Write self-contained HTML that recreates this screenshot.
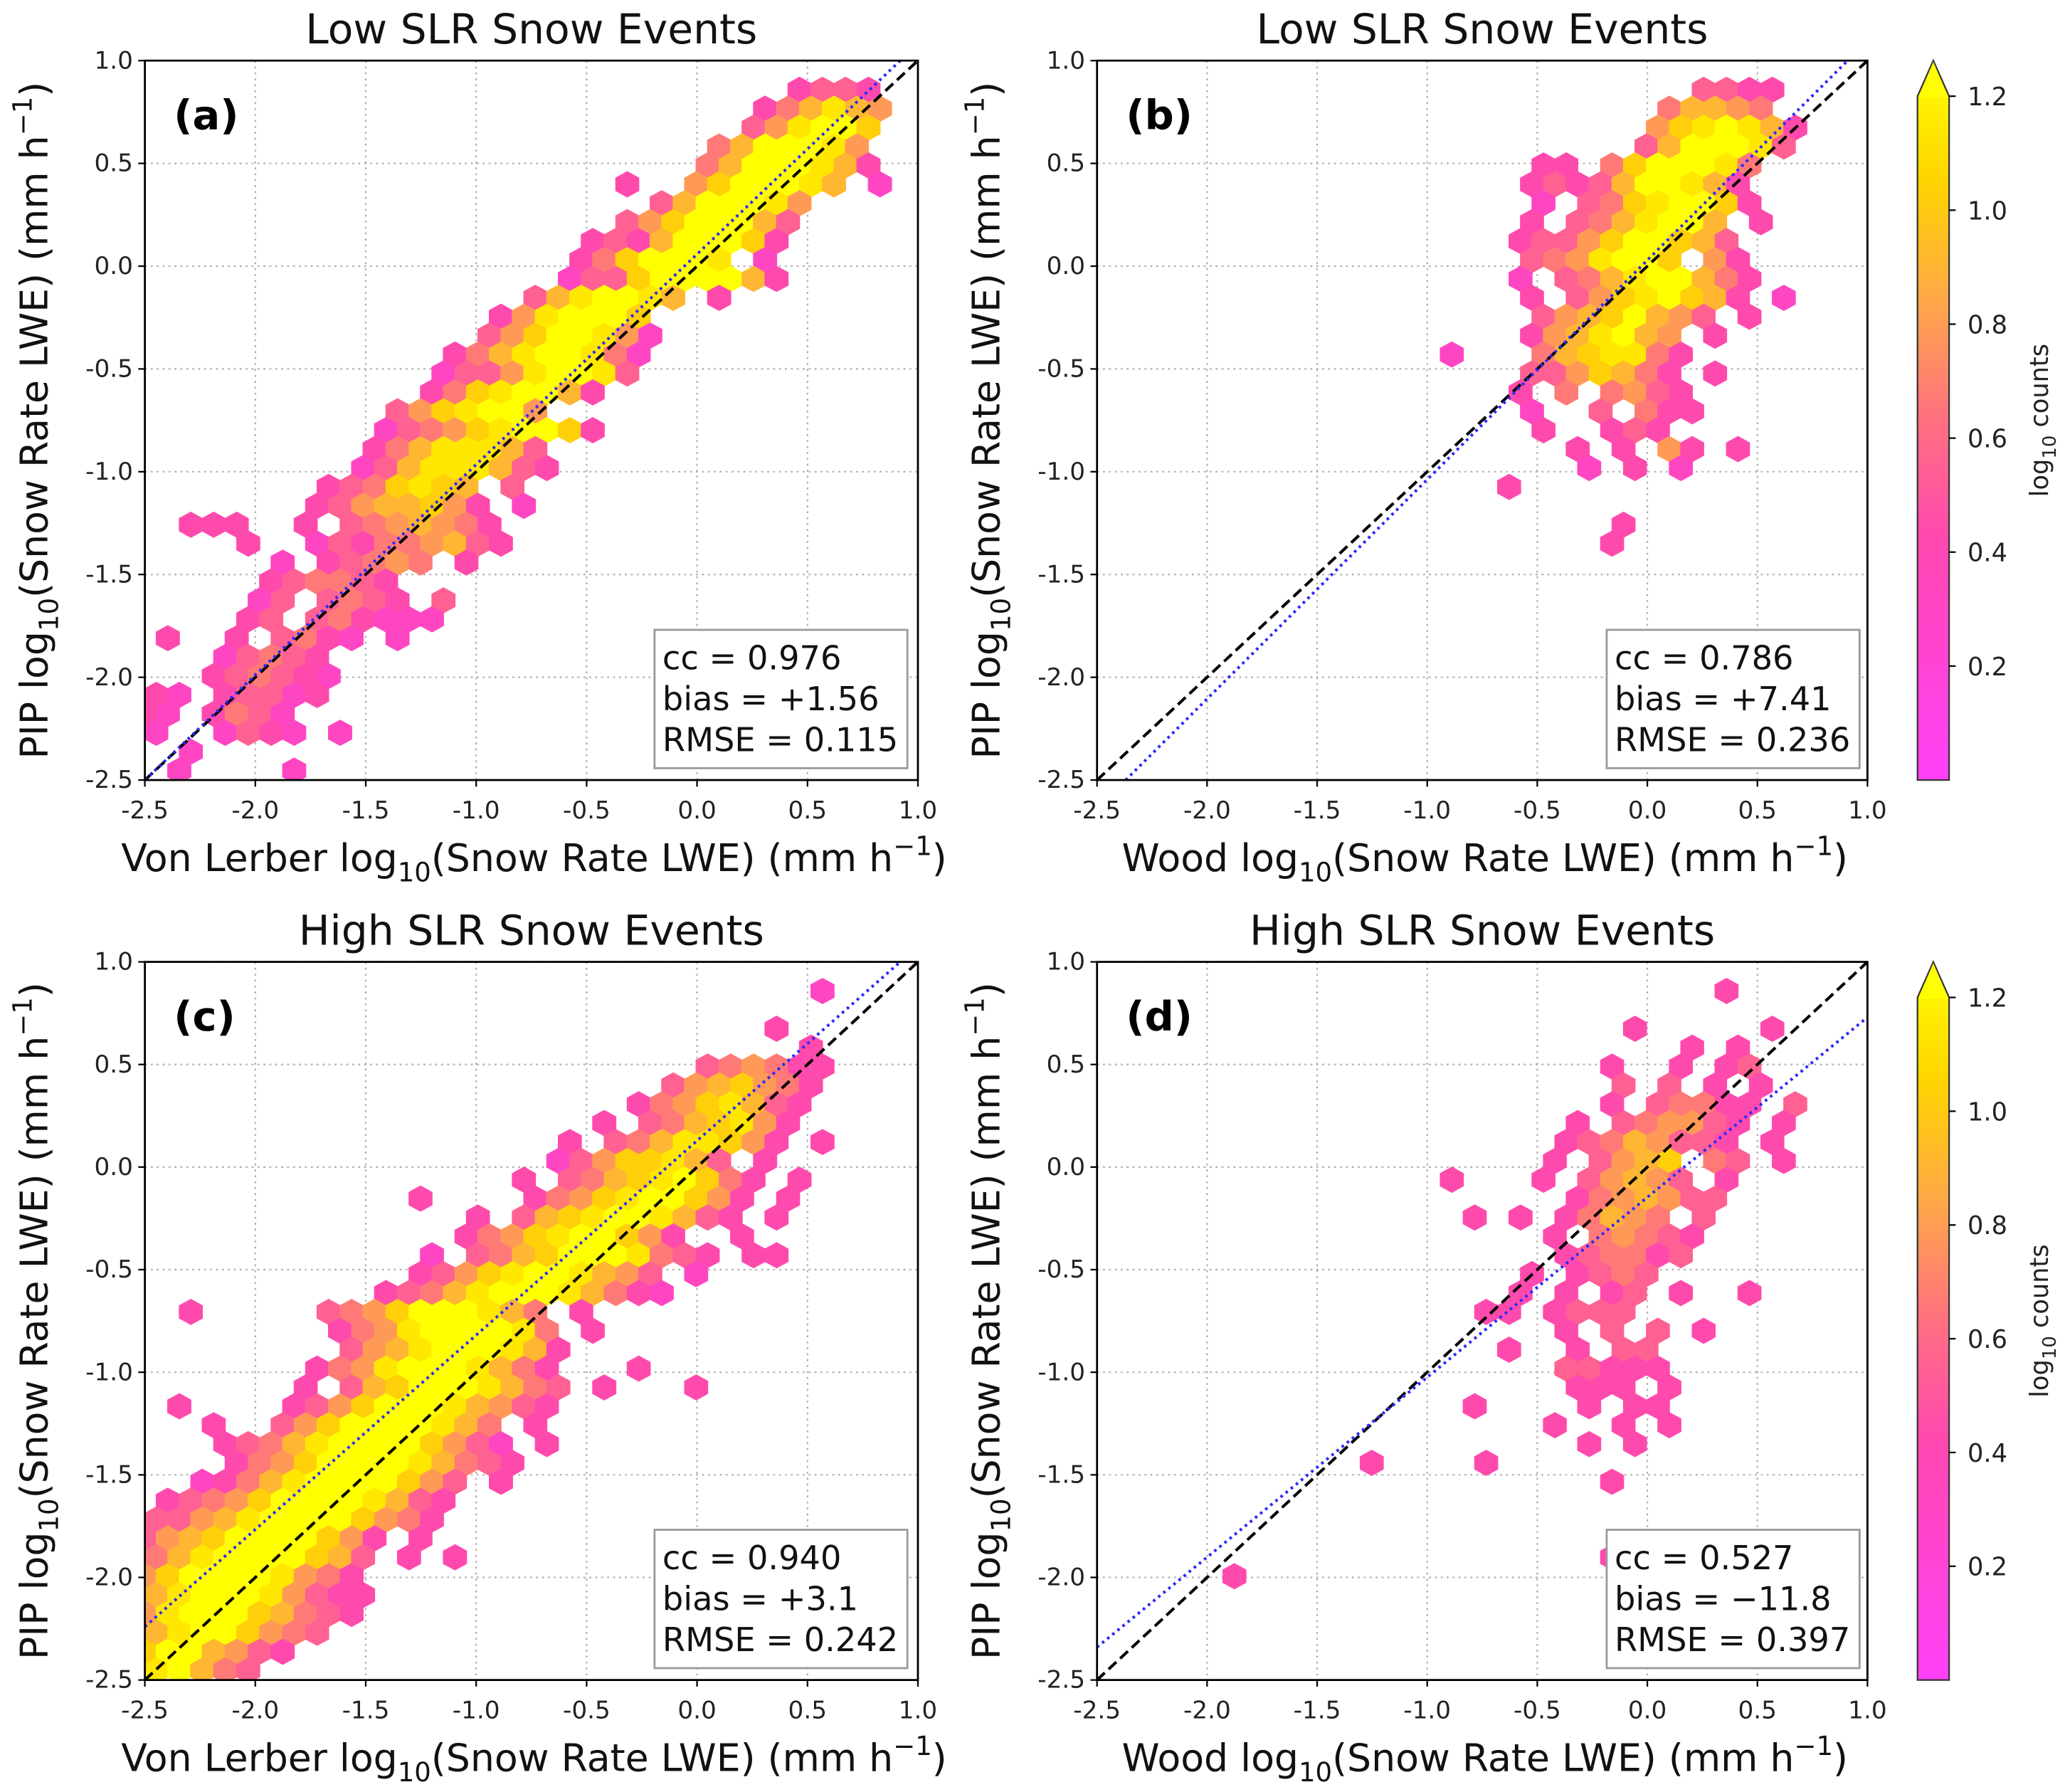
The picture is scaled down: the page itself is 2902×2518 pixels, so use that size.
<!DOCTYPE html>
<html><head><meta charset="utf-8"><style>
html,body{margin:0;padding:0;background:#fff;}
svg{display:block;font-family:"DejaVu Sans","Liberation Sans",sans-serif;}
</style></head><body>
<svg id="fig" width="2902" height="2518" viewBox="0 0 1568 1360" preserveAspectRatio="none" xmlns="http://www.w3.org/2000/svg">
<defs>
<linearGradient id="cbg" x1="0" y1="1" x2="0" y2="0">
<stop offset="0" stop-color="#ff40f8"/><stop offset="0.333" stop-color="#ff48b0"/><stop offset="0.5" stop-color="#ff7080"/><stop offset="0.667" stop-color="#ffa848"/><stop offset="0.833" stop-color="#ffd400"/><stop offset="1" stop-color="#ffff00"/>
</linearGradient>
</defs>
<g id="root"></g>
</svg>
<script>
// ---------- data ----------
const xTicks = [-2.5,-2.0,-1.5,-1.0,-0.5,0.0,0.5,1.0];
const yTicks = [-2.5,-2.0,-1.5,-1.0,-0.5,0.0,0.5,1.0];
const cbTicks = [0.2,0.4,0.6,0.8,1.0,1.2];
const titles = ["Low SLR Snow Events","Low SLR Snow Events","High SLR Snow Events","High SLR Snow Events"];
const letters = ["(a)","(b)","(c)","(d)"];
const xNames = ["Von Lerber","Wood","Von Lerber","Wood"];
const ccVals = ["0.976","0.786","0.940","0.527"];
const biasVals = ["+1.56","+7.41","+3.1","\u221211.8"];
const rmseVals = ["0.115","0.236","0.242","0.397"];
// blue fit lines: [x1,y1,x2,y2] in data units
const fitA = [-2.5,-2.5,0.92,1.0];
const fitB = [-2.37,-2.5,0.91,1.0];
const fitC = [-2.5,-2.24,0.92,1.0];
const fitD = [-2.5,-2.34,1.0,0.73];
// hexbin rows: [row y, start x, value string (1..9 levels, space = empty)]
const hexA = [
[0.858,0.42,"2332"],[0.766,0.3,"246865"],[0.674,0.25,"358997"],[0.582,0.15,"4699985"],
[0.49,0.05,"46999862"],[0.398,-0.3,"2  5799986 1"],[0.306,-0.15,"3699985"],[0.214,-0.3,"35799963"],
[0.122,-0.45,"232699972"],[0.03,-0.55,"2479998 1"],[-0.062,-0.6,"1337999962"],[-0.154,-0.75,"3689986 2"],
[-0.246,-0.85,"2589997"],[-0.338,-0.95,"35799851"],[-0.43,-1.1,"246899841"],[-0.522,-1.1,"133589983"],
[-0.614,-1.2,"24789962"],[-0.706,-1.35,"3578995"],[-0.798,-1.45,"1345789972"],[-0.89,-1.5,"24688863"],
[-0.982,-1.55,"136888632"],[-1.074,-1.65,"2347876 3"],[-1.166,-1.7,"23566752 1"],[-1.258,-2.25,"222  2 3456542"],
[-1.35,-2.05,"2  132445632"],[-1.442,-1.9,"1 23454 2"],[-1.534,-1.95,"234432"],[-1.626,-2.0,"13 3432 3"],
[-1.718,-2.05,"23 342111"],[-1.81,-2.35,"2  2 3421 1"],[-1.902,-2.1,"13432"],[-1.994,-2.2,"234321"],
[-2.086,-2.5,"21 23312"],[-2.178,-2.5,"21 2431"],[-2.27,-2.5,"1  1321 1"],[-2.362,-2.4," 1   "],[-2.454,-2.3,"1    1"]
];
const hexB = [
[0.858,0.25,"3322"],[0.766,0.15,"46654"],[0.674,0.05,"5789862"],[0.582,-0.05,"3699983"],
[0.49,-0.5,"22 4799984"],[0.398,-0.5,"2323699862"],[0.306,-0.5,"1 34789972"],[0.214,-0.5,"2 3468996 2"],
[0.122,-0.55,"2335799763"],[0.03,-0.5,"3458997 52"],[-0.062,-0.6,"1 346899642"],[-0.154,-0.55,"2 35789762 1"],
[-0.246,-0.5,"35679653 2"],[-0.338,-0.5,"2568965 2"],[-0.43,-0.9,"1   4678842"],[-0.522,-0.5,"3357642 2"],
[-0.614,-0.55,"2 4 4532"],[-0.706,-0.55,"1  3 422"],[-0.798,-0.5,"2  232"],[-0.89,-0.35,"2 2 52 2"],
[-0.982,-0.3,"1 2 1"],[-1.074,-0.6,"2"],[-1.258,-0.15,"2"],[-1.35,-0.2,"2"]
];
const hexC = [
[0.858,0.55,"1"],[0.674,0.4,"2"],[0.582,0.55,"2"],[0.49,0.0,"345422"],[0.398,-0.1,"3567542"],
[0.306,-0.3,"24578632"],[0.214,-0.45,"2 3467852"],[0.122,-0.6,"2 34688752 2"],[0.03,-0.6,"13577863 2"],
[-0.062,-0.75,"2 346789742 2"],[-0.154,-1.3,"2    2457899752 2"],[-0.246,-1.0,"2 3678998632 2"],
[-0.338,-1.05,"2457899752  2"],[-0.43,-1.25,"1 34679998432 22"],[-0.522,-1.3,"23578998653 1"],
[-0.614,-1.4,"2346899986421"],[-0.706,-2.3,"2     3457999864 2"],[-0.798,-1.6,"2458999984 2"],
[-0.89,-1.6,"3568999862"],[-0.982,-1.7,"24589998642   2"],[-1.074,-1.75,"2 3679998643 2   2"],
[-1.166,-2.3,"2    235799986532"],[-1.258,-2.15,"2  3579999864 2"],[-1.35,-2.1,"2346899997531 2"],
[-1.442,-2.1,"2457999986432"],[-1.534,-2.2,"124689999753 2"],[-1.626,-2.35,"2345799998632"],
[-1.718,-2.5,"3356899997542"],[-1.81,-2.5,"35679999752 2"],[-1.902,-2.5,"4689999763 2 2"],
[-1.994,-2.5,"5799998542"],[-2.086,-2.5,"6899985322"],[-2.178,-2.5,"5899976432"],
[-2.27,-2.5,"68997543"],[-2.362,-2.5,"7996532"],[-2.454,-2.5,"89643"]
];
const hexD = [
[0.858,0.4,"2"],[0.674,-0.1,"2     2"],[0.582,0.25,"2 2"],[0.49,-0.2,"2  2 23"],[0.398,-0.1,"3 3 2 2"],
[0.306,-0.2,"2 34422 3"],[0.214,-0.3,"2 345532 2"],[0.122,-0.4,"23465332 2"],[0.03,-0.45,"2 3567 43 2"],
[-0.062,-0.85,"2   2 35653 2"],[-0.154,-0.35,"2456533"],[-0.246,-0.75,"2 2 24654 3"],[-0.338,-0.45,"2 45432"],
[-0.43,-0.4,"234423"],[-0.522,-0.5,"2 2343"],[-0.614,-0.6,"2 2 23 2  2"],[-0.706,-0.75,"22 2333"],
[-0.798,-0.4,"2 3 3 2"],[-0.89,-0.6,"2  2 33"],[-0.982,-0.35,"33222"],[-1.074,-0.35,"222 2"],
[-1.166,-0.8,"2    2 22"],[-1.258,-0.4,"2  2 2"],[-1.35,-0.3,"2 2"],[-1.442,-1.3,"2    2"],
[-1.534,-0.15,"2"],[-1.902,-0.15,"2"],[-1.994,-1.9,"2"]
];
// ---------- drawing ----------
const NS="http://www.w3.org/2000/svg";
const root=document.getElementById('root');
function mk(tag,attrs,parent,text){const e=document.createElementNS(NS,tag);for(const k in attrs)e.setAttribute(k,attrs[k]);if(text!==undefined)e.textContent=text;(parent||root).appendChild(e);return e;}
const stops=[[0,[255,64,248]],[0.4,[255,72,176]],[0.6,[255,112,128]],[0.8,[255,168,72]],[1.0,[255,212,0]],[1.2,[255,255,0]]];
function cmap(v){if(v<=0)return 'rgb(255,64,248)';for(let i=1;i<stops.length;i++){if(v<=stops[i][0]){const a=stops[i-1],b=stops[i];const t=(v-a[0])/(b[0]-a[0]);const c=a[1].map((x,j)=>Math.round(x+(b[1][j]-x)*t));return 'rgb('+c.join(',')+')';}}return 'rgb(255,255,0)';}
const panels=[
{x0:110,x1:697,y0:46,y1:592,hex:hexA,fit:fitA},
{x0:833,x1:1418,y0:46,y1:592,hex:hexB,fit:fitB},
{x0:110,x1:697,y0:730,y1:1275,hex:hexC,fit:fitC},
{x0:833,x1:1418,y0:730,y1:1275,hex:hexD,fit:fitD}];
const DXU=0.104, DYU=0.092;
panels.forEach((p,pi)=>{
  const sx=v=>p.x0+(v+2.5)/3.5*(p.x1-p.x0);
  const sy=v=>p.y1-(v+2.5)/3.5*(p.y1-p.y0);
  const g=mk('g',{});
  
  
  const clipId='clip'+pi;
  const cp=mk('clipPath',{id:clipId},g);mk('rect',{x:p.x0,y:p.y0,width:p.x1-p.x0,height:p.y1-p.y0},cp);
  xTicks.forEach(t=>{const l=mk('line',{x1:sx(t),x2:sx(t),y1:p.y0,y2:p.y1,stroke:'#b0b0b0','stroke-width':1.2,'stroke-dasharray':'1.5 3'},g);
    });
  yTicks.forEach(t=>{const l=mk('line',{x1:p.x0,x2:p.x1,y1:sy(t),y2:sy(t),stroke:'#b0b0b0','stroke-width':1.2,'stroke-dasharray':'1.5 3'},g);
    });
  const hg=mk('g',{'clip-path':'url(#'+clipId+')'},g);
  
  const hw=DXU/3.5*(p.x1-p.x0)/2+0.4, hr=DYU/3.5*(p.y1-p.y0)/1.5+0.4;
  p.hex.forEach(row=>{
    const r=Math.round((0.95-row[0])/DYU);
    const off=(r%2)?DXU/2:0;
    const yc=0.95-r*DYU;
    const c0=Math.round((row[1]+2.5-off)/DXU);
    for(let k=0;k<row[2].length;k++){
      const ch=row[2][k];if(ch===' ')continue;
      const val=0.3+(parseInt(ch)-1)*0.1125;
      const xc=-2.5+off+(c0+k)*DXU;
      const cx=sx(xc),cy=sy(yc);
      const pts=[[cx,cy-hr],[cx+hw,cy-hr/2],[cx+hw,cy+hr/2],[cx,cy+hr],[cx-hw,cy+hr/2],[cx-hw,cy-hr/2]].map(q=>q[0].toFixed(1)+','+q[1].toFixed(1)).join(' ');
      const h=mk('polygon',{points:pts,fill:cmap(val)},hg);
      
      
    }
  });
  const l1=mk('line',{x1:sx(-2.5),y1:sy(-2.5),x2:sx(1.0),y2:sy(1.0),stroke:'#000','stroke-width':2.2,'stroke-dasharray':'8 4','clip-path':'url(#'+clipId+')'},g);
  
  const f=p.fit;
  const l2=mk('line',{x1:sx(f[0]),y1:sy(f[1]),x2:sx(f[2]),y2:sy(f[3]),stroke:'#2a2aff','stroke-width':2.2,'stroke-dasharray':'2 3','clip-path':'url(#'+clipId+')'},g);
  
  const fr=mk('rect',{x:p.x0,y:p.y0,width:p.x1-p.x0,height:p.y1-p.y0,fill:'none',stroke:'#000','stroke-width':1.5},g);
  
  xTicks.forEach(t=>{mk('line',{x1:sx(t),x2:sx(t),y1:p.y1,y2:p.y1+5,stroke:'#000','stroke-width':1.2},g);
    const tx=mk('text',{x:sx(t),y:p.y1+29,'font-size':18.5,'text-anchor':'middle',fill:'#222'},g,t.toFixed(1));
    });
  yTicks.forEach(t=>{mk('line',{x1:p.x0-5,x2:p.x0,y1:sy(t),y2:sy(t),stroke:'#000','stroke-width':1.2},g);
    const ty=mk('text',{x:p.x0-9,y:sy(t)+6,'font-size':18.5,'text-anchor':'end',fill:'#222'},g,t.toFixed(1));
    });
  const tt=mk('text',{x:(p.x0+p.x1)/2,y:p.y0-13,'font-size':31.5,'text-anchor':'middle',fill:'#111'},g,titles[pi]);
  
  const lt=mk('text',{x:p.x0+22,y:p.y0+52,'font-size':31,'font-weight':'bold',fill:'#000'},g,letters[pi]);
  
  const xl=mk('text',{x:(p.x0+p.x1)/2+2,y:p.y1+69,'font-size':29,'text-anchor':'middle',fill:'#111'},g);
  
  xl.innerHTML=xNames[pi]+' log<tspan font-size="20" dy="8">10</tspan><tspan dy="-8">(Snow Rate LWE) (mm h</tspan><tspan font-size="20" dy="-12">\u22121</tspan><tspan dy="12">)</tspan>';
  const yl=mk('text',{x:0,y:0,'font-size':29,'text-anchor':'middle',fill:'#111',transform:'translate('+(p.x0-74)+','+((p.y0+p.y1)/2)+') rotate(-90)'},g);
  
  yl.innerHTML='PIP log<tspan font-size="20" dy="8">10</tspan><tspan dy="-8">(Snow Rate LWE) (mm h</tspan><tspan font-size="20" dy="-12">\u22121</tspan><tspan dy="12">)</tspan>';
  const bx=p.x0+387, by=p.y1-114;
  const sb=mk('g',{},g);
  mk('rect',{x:bx,y:by,width:192,height:105,fill:'#fff',stroke:'#999','stroke-width':1.5},sb);
  mk('text',{x:bx+6,y:by+30,'font-size':25,fill:'#111'},sb,'cc = '+ccVals[pi]);
  mk('text',{x:bx+6,y:by+61,'font-size':25,fill:'#111'},sb,'bias = '+biasVals[pi]);
  mk('text',{x:bx+6,y:by+92,'font-size':25,fill:'#111'},sb,'RMSE = '+rmseVals[pi]);
});
[[46,592],[730,1275]].forEach((cb,ci)=>{
  const g=mk('g',{});
  const top=cb[0], bot=cb[1], x0=1456, x1=1480;
  const cy=v=>bot-v/1.2*(bot-top-27);
  const ytop=cy(1.2);
  mk('path',{d:`M${x0},${bot} L${x0},${ytop} L${(x0+x1)/2},${top} L${x1},${ytop} L${x1},${bot} Z`,fill:'url(#cbg)',stroke:'#333','stroke-width':1.2},g);
  mk('polygon',{points:`${x0+0.6},${ytop+1} ${(x0+x1)/2},${top+1} ${x1-0.6},${ytop+1}`,fill:'#ffff00'},g);
  cbTicks.forEach(t=>{mk('line',{x1:x1,x2:x1+5,y1:cy(t),y2:cy(t),stroke:'#000','stroke-width':1.2},g);
    const tl=mk('text',{x:x1+14,y:cy(t)+7,'font-size':19,fill:'#222'},g,t.toFixed(1));
    });
  const lab=mk('text',{x:0,y:0,'font-size':19,'text-anchor':'middle',fill:'#222',transform:`translate(1555,${(top+bot)/2}) rotate(-90)`},g);
  
  lab.innerHTML='log<tspan font-size="14" dy="6">10</tspan><tspan dy="-6"> counts</tspan>';
});
</script>
</body></html>
